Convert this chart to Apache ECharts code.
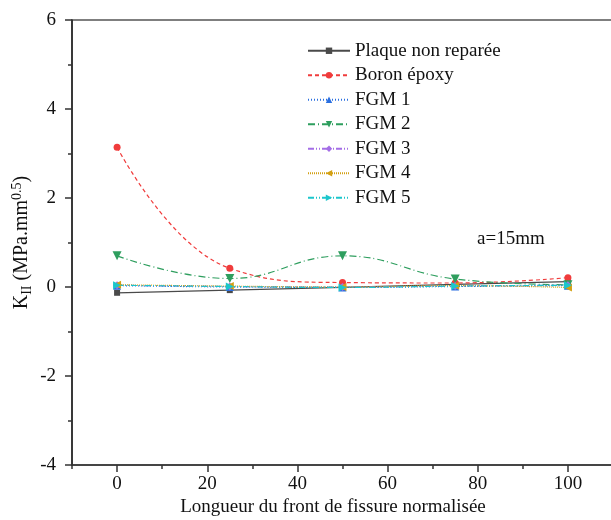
<!DOCTYPE html>
<html>
<head>
<meta charset="utf-8">
<script src="https://cdn.jsdelivr.net/npm/echarts@6/dist/echarts.min.js"></script>
<style>html,body{margin:0;padding:0;background:#fff;}#c{width:611px;height:520px;}</style>
</head>
<body>
<div id="c"></div>
<script>
const xVals = [0, 25, 50, 75, 100];
const plaque = [-0.13, -0.07, -0.01, 0.06, 0.12];
const boron = [3.14, 0.42, 0.10, 0.09, 0.21];
const fgm1 = [0.03, 0.00, -0.01, 0.01, 0.03];
const fgm2 = [0.70, 0.19, 0.70, 0.18, 0.05];
const fgm3 = [0.04, 0.01, 0.00, 0.02, 0.04];
const fgm4 = [0.05, 0.02, 0.00, 0.03, -0.01];
const fgm5 = [0.04, 0.01, -0.01, 0.02, 0.04];
const seriesNames = ['Plaque non reparée', 'Boron époxy', 'FGM 1', 'FGM 2', 'FGM 3', 'FGM 4', 'FGM 5'];
const xMajorTicks = [0, 20, 40, 60, 80, 100];
const xMinorTicks = [-10, 10, 30, 50, 70, 90, 110];
const xName = 'Longueur du front de fissure normalisée';
const annotation = 'a=15mm';

const FONT = 'Liberation Serif';
const FS = 19;
const pair = arr => xVals.map((x, i) => [x, arr[i]]);

const styles = [
  {data: plaque, color: '#4a4a4a', type: 'solid', symbol: 'rect', rot: 0, size: 6, smooth: false},
  {data: boron, color: '#f03c3c', type: [4, 3], symbol: 'circle', rot: 0, size: 7, smooth: 0.45},
  {data: fgm1, color: '#2a6fe0', type: [1, 2], symbol: 'triangle', rot: 0, size: 8, smooth: 0.45},
  {data: fgm2, color: '#2e9e5e', type: [7, 3, 1, 3], symbol: 'triangle', rot: 180, size: 9, smooth: 0.45},
  {data: fgm3, color: '#a46ee6', type: [6, 2, 1, 2, 1, 2], symbol: 'diamond', rot: 0, size: 8, smooth: 0.45},
  {data: fgm4, color: '#d4a012', type: [1, 1], symbol: 'triangle', rot: 90, size: 8, smooth: 0.45},
  {data: fgm5, color: '#1cc6cc', type: [6, 2, 1, 2, 1, 2], symbol: 'triangle', rot: -90, size: 8, smooth: 0.45}
];

const chart = echarts.init(document.getElementById('c'), null, {renderer: 'canvas'});
chart.setOption({
  animation: false,
  backgroundColor: '#fff',
  textStyle: {fontFamily: FONT},
  grid: {left: 72, top: 20, width: 541, height: 445, show: true, borderColor: '#555', borderWidth: 1.5, containLabel: false, outerBoundsMode: 'none'},
  legend: {
    orient: 'vertical', left: 302, top: 36, itemWidth: 42, itemHeight: 8, itemGap: 5,
    textStyle: {fontFamily: FONT, fontSize: FS, color: '#111', lineHeight: 19.5},
    data: seriesNames
  },
  xAxis: [{
    type: 'value', min: -10, max: 110, position: 'bottom',
    axisLine: {onZero: false, lineStyle: {color: '#333', width: 1.5}},
    axisTick: {show: true, length: 7, customValues: xMajorTicks, lineStyle: {color: '#333', width: 1.5}},
    axisLabel: {customValues: xMajorTicks, fontFamily: FONT, fontSize: FS, color: '#111', margin: 10},
    splitLine: {show: false}
  }, {
    type: 'value', min: -10, max: 110, position: 'bottom',
    axisLine: {show: false, onZero: false},
    axisTick: {show: true, length: 4, customValues: xMinorTicks, lineStyle: {color: '#333', width: 1.5}},
    axisLabel: {show: false},
    splitLine: {show: false}
  }],
  yAxis: {
    type: 'value', min: -4, max: 6, interval: 2,
    axisLine: {show: true, onZero: false, lineStyle: {color: '#222', width: 1.5}},
    axisTick: {show: true, length: 7, lineStyle: {color: '#333', width: 1.5}},
    minorTick: {show: true, splitNumber: 2, length: 4, lineStyle: {color: '#333', width: 1.5}},
    axisLabel: {fontFamily: FONT, fontSize: FS, color: '#111', margin: 16},
    splitLine: {show: false},
    name: '{a|K}{sub|II}{a| (MPa.mm}{sup|0.5}{a|)}',
    nameLocation: 'middle', nameGap: 38, nameMoveOverlap: false,
    nameTextStyle: {
      fontFamily: FONT, fontSize: FS, color: '#111',
      rich: {
        a: {fontFamily: FONT, fontSize: 20, color: '#111', lineHeight: 24, verticalAlign: 'middle'},
        sub: {fontFamily: FONT, fontSize: 14, color: '#111', lineHeight: 24, verticalAlign: 'bottom'},
        sup: {fontFamily: FONT, fontSize: 14, color: '#111', lineHeight: 24, verticalAlign: 'top'}
      }
    }
  },
  graphic: [
    {type: 'text', x: 333, y: 498, style: {text: xName, fontFamily: FONT, fontSize: FS, fill: '#111', align: 'center'}},
    {type: 'text', x: 477, y: 230, style: {text: annotation, fontFamily: FONT, fontSize: 19, fill: '#111'}}
  ],
  series: styles.map((s, i) => ({
    name: seriesNames[i], type: 'line', data: pair(s.data),
    smooth: s.smooth, symbol: s.symbol, symbolSize: s.size, symbolRotate: s.rot,
    showAllSymbol: true,
    lineStyle: {color: s.color, width: 1.2, type: s.type},
    itemStyle: {color: s.color}
  }))
});
</script>
</body>
</html>
